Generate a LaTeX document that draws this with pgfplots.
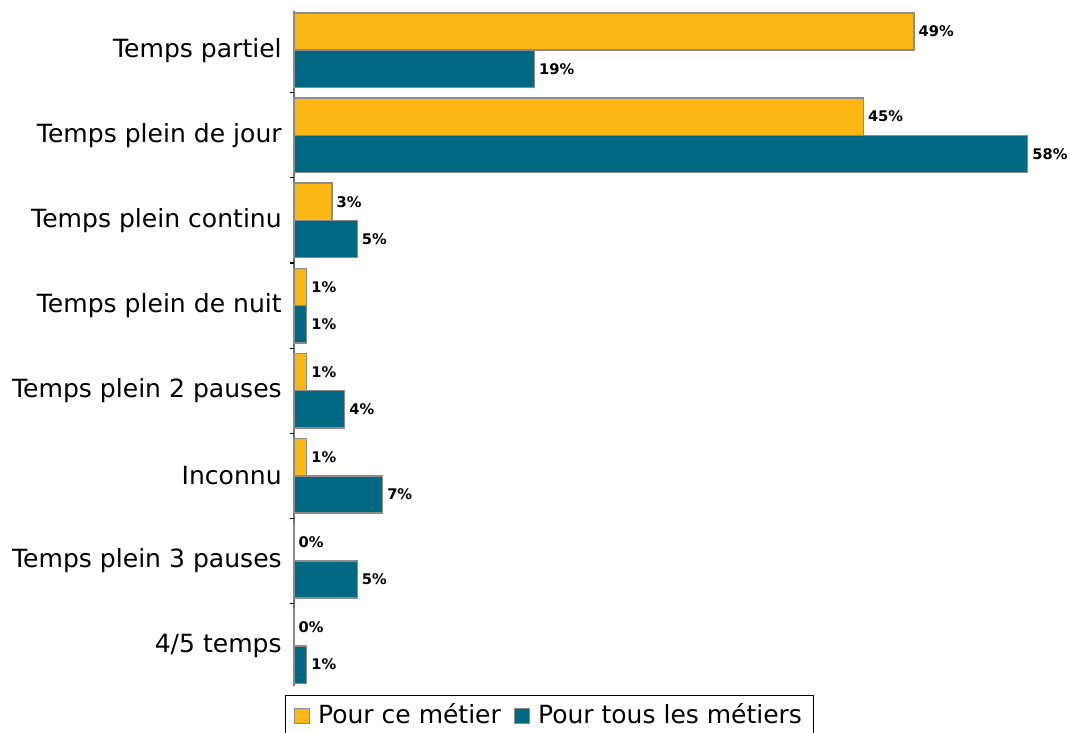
\documentclass[border=0pt]{standalone}
\usepackage{fontspec}
\setmainfont{DejaVu Sans}
\usepackage{pgfplots}
\pgfplotsset{compat=1.18}
\definecolor{cyel}{HTML}{FDB714}
\definecolor{cteal}{HTML}{006883}
\definecolor{cedge}{HTML}{8C8C8C}
\begin{document}
\begin{tikzpicture}
\useasboundingbox (0,0) rectangle (802.5pt,-549pt);
\begin{axis}[
  at={(220.5pt,-8.25pt)}, anchor=north west,
  scale only axis, width=582pt, height=506.25pt,
  xbar, xmin=0, xmax=61.34,
  ymin=-0.46, ymax=7.47, y dir=reverse,
  axis x line=none, axis y line*=left,
  y axis line style={draw=cedge!80!black, line width=1pt},
  ytick={0,...,7},
  yticklabels={Temps partiel, Temps plein de jour, Temps plein continu, Temps plein de nuit, Temps plein 2 pauses, Inconnu, Temps plein 3 pauses, 4/5 temps},
  major tick length=0pt,
  extra y ticks={0.5,1.5,2.5,3.5,4.5,5.5,6.5},
  extra y tick labels={},
  extra y tick style={major tick length=3pt, tick align=outside, tick style={black, line width=0.8pt}},
  yticklabel style={font=\fontsize{18.8}{22}\selectfont, anchor=east, inner sep=0pt, xshift=-9pt},
  bar width=0.438,
  point meta=x,
  /pgf/number format/assume math mode=true,
  nodes near coords={\pgfmathprintnumber{\pgfplotspointmeta}\%},
  nodes near coords style={font=\bfseries\fontsize{11}{13}\selectfont, anchor=west, inner sep=0pt, xshift=3pt, text=black},
  legend columns=2,
  legend style={at={(-0.0116,-0.0133)}, anchor=north west, draw=black, line width=0.9pt,
    font=\fontsize{18.75}{22}\selectfont, inner xsep=6.5pt, inner ysep=4pt,
    /tikz/every odd column/.append style={column sep=4pt},
    /tikz/every even column/.append style={column sep=8pt}},
  legend image code/.code={\draw[#1, draw=cedge, line width=0.9pt] (0pt,-6.6pt) rectangle (11pt,4.6pt);},
  clip=false,
]
\addplot[fill=cyel, draw=cedge, line width=1.1pt, bar shift=-0.219] coordinates {
  (49,0) (45,1) (3,2) (1,3) (1,4) (1,5) (0,6) (0,7)};
\addplot[fill=cteal, draw=cedge, line width=1.1pt, bar shift=0.219] coordinates {
  (19,0) (58,1) (5,2) (1,3) (4,4) (7,5) (5,6) (1,7)};
\legend{Pour ce métier, Pour tous les métiers}
\end{axis}
\end{tikzpicture}
\end{document}
